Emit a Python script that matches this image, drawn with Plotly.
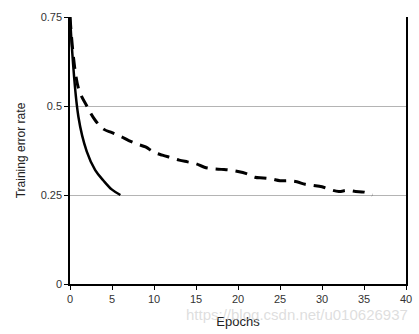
import plotly.graph_objects as go

solid_epochs = [0, 1, 2, 3, 4, 5, 6]
solid_error = [0.75, 0.47, 0.372, 0.32, 0.29, 0.265, 0.25]

dashed_epochs = list(range(0, 37))
dashed_error = [0.75, 0.55, 0.50, 0.46, 0.435, 0.425, 0.415, 0.403, 0.393, 0.385,
                0.37, 0.362, 0.355, 0.348, 0.343, 0.338, 0.328, 0.324, 0.322, 0.32,
                0.316, 0.31, 0.30, 0.298, 0.295, 0.29, 0.29, 0.287, 0.28, 0.277,
                0.273, 0.265, 0.26, 0.263, 0.26, 0.258, 0.25]

x_ticks = [0, 5, 10, 15, 20, 25, 30, 35, 40]
y_ticks = [0, 0.25, 0.5, 0.75]
y_tick_labels = ["0", "0.25", "0.5", "0.75"]

fig = go.Figure()
fig.add_trace(go.Scatter(x=dashed_epochs, y=dashed_error, mode="lines",
                         line=dict(color="black", width=3, dash="12px,8px"),
                         line_shape="spline", showlegend=False))
fig.add_trace(go.Scatter(x=solid_epochs, y=solid_error, mode="lines",
                         line=dict(color="black", width=2.5),
                         line_shape="spline", showlegend=False))
# invisible trace for right border axis
fig.add_trace(go.Scatter(x=[], y=[], yaxis="y2", showlegend=False))

font = dict(family="Liberation Sans, Arial, sans-serif", size=11, color="#333")
fig.update_layout(
    width=419, height=334,
    margin=dict(l=70, r=13, t=17, b=50, autoexpand=False),
    paper_bgcolor="white", plot_bgcolor="white",
    font=font,
    xaxis=dict(range=[0, 40], tickvals=x_ticks, showgrid=False, zeroline=False,
               showline=True, linecolor="black", linewidth=1.5, automargin=False,
               ticks="outside", ticklen=4, tickcolor="black",
               title=dict(text="Epochs", font=dict(size=13, color="#222"), standoff=13)),
    yaxis=dict(range=[0, 0.75], tickvals=y_ticks, ticktext=y_tick_labels,
               showgrid=True, gridcolor="#b4b4b4", gridwidth=1, zeroline=False,
               showline=True, linecolor="black", linewidth=1.5, automargin=False,
               ticks="outside", ticklen=4, tickcolor="black",
               title=dict(text="Training error rate", font=dict(size=12, color="#222"), standoff=12)),
    yaxis2=dict(range=[0, 0.75], overlaying="y", side="right", showline=True,
                linecolor="black", linewidth=1.5, showticklabels=False, ticks="",
                showgrid=False, zeroline=False, automargin=False),
    annotations=[dict(text="https://blog.csdn.net/u010626937", xref="paper", yref="paper",
                      x=1.012, y=-0.074, xanchor="right", yanchor="top", showarrow=False,
                      font=dict(size=15, color="rgba(200,200,200,0.6)"))],
)
fig.write_html("out.html")
